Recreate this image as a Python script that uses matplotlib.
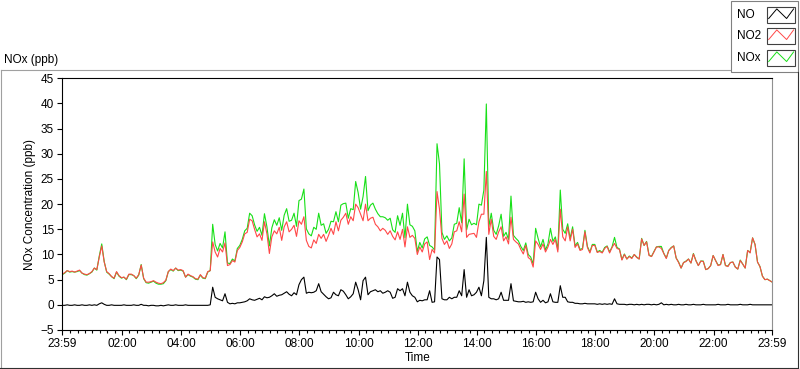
import matplotlib.pyplot as plt
import numpy as np
from matplotlib.patches import Rectangle

plt.rcParams['font.family'] = ['Liberation Sans', 'DejaVu Sans']
plt.rcParams['font.size'] = 8

# 5-minute readings from 23:59 to 23:59 next day, one row per hour
no2_ppb = [
    6.1, 6.4, 6.8, 6.6, 6.7, 6.5, 6.7, 6.9, 6.3, 6.1, 6.0, 6.2,
    6.6, 7.3, 7.0, 9.5, 11.7, 8.5, 6.6, 6.2, 5.6, 5.3, 6.6, 5.8,
    5.4, 5.5, 5.1, 6.1, 6.1, 5.8, 5.3, 6.0, 7.9, 5.3, 4.5, 4.5,
    4.6, 4.8, 4.5, 4.3, 4.2, 4.4, 4.9, 6.6, 7.1, 6.8, 7.3, 6.9,
    7.0, 6.8, 5.5, 6.1, 5.8, 5.6, 5.2, 5.1, 6.0, 5.4, 5.3, 6.6,
    6.8, 12.5, 10.5, 9.5, 11.2, 10.5, 12.3, 7.8, 8.0, 8.8, 8.5, 10.8,
    11.4, 12.5, 14.1, 14.4, 17.0, 16.7, 15.0, 13.5, 14.1, 12.8, 16.5, 14.1,
    10.2, 13.5, 14.7, 14.1, 15.4, 12.8, 15.5, 16.5, 14.5, 15.0, 15.8, 13.6,
    16.7, 16.0, 17.5, 12.8, 11.6, 11.3, 12.9, 12.2, 14.0, 13.2, 14.0, 12.6,
    13.8, 15.2, 14.0, 16.5, 14.7, 16.8, 17.4, 18.2, 16.0, 17.5, 16.7, 20.0,
    19.3, 18.0, 16.7, 20.0, 16.7, 17.2, 17.4, 16.0, 15.5, 14.7, 15.2, 14.8,
    14.0, 14.7, 13.6, 12.9, 14.5, 13.0, 15.0, 11.5, 15.5, 13.4, 13.8, 13.2,
    10.0, 11.5, 10.5, 12.1, 12.5, 9.0, 11.0, 10.3, 22.5, 19.0, 13.2, 12.0,
    12.7, 11.2, 12.1, 14.5, 14.7, 16.5, 14.5, 22.0, 13.4, 14.0, 14.1, 14.2,
    13.4, 16.5, 18.0, 18.0, 26.5, 14.0, 17.0, 13.6, 13.0, 14.5, 15.5, 12.7,
    13.5, 12.1, 17.4, 13.0, 12.5, 12.1, 11.0, 10.1, 11.8, 9.4, 9.0, 7.5,
    12.7, 12.0, 11.0, 12.1, 10.5, 11.5, 13.0, 12.0, 13.0, 10.5, 19.0, 13.5,
    12.7, 15.5, 12.7, 15.0, 11.4, 12.1, 10.8, 11.0, 14.5, 11.4, 10.3, 11.8,
    11.8, 10.4, 10.6, 10.3, 11.2, 11.6, 10.3, 11.4, 12.2, 11.2, 11.0, 8.9,
    10.0, 9.1, 9.6, 9.2, 10.0, 9.4, 9.1, 13.1, 11.8, 12.5, 9.8, 9.6,
    10.5, 11.5, 11.5, 11.2, 10.2, 9.2, 10.8, 11.3, 11.7, 9.3, 8.4, 7.3,
    8.4, 8.6, 9.1, 8.3, 10.1, 8.8, 7.8, 8.7, 8.6, 7.0, 7.2, 7.8,
    9.8, 8.8, 7.8, 8.0, 10.0, 7.8, 7.6, 8.4, 8.5, 7.5, 7.1, 8.8,
    8.1, 7.3, 10.8, 10.3, 13.3, 12.0, 8.5, 7.6, 5.7, 5.0, 5.1, 4.8, 4.5,
]

no_ppb = [
    -0.1, -0.1, 0.0, -0.1, -0.1, 0.0, -0.1, -0.1, 0.0, -0.1, -0.1, 0.0,
    -0.1, 0.0, -0.1, 0.2, 0.4, 0.1, -0.1, -0.1, 0.0, -0.1, -0.1, -0.1,
    -0.1, 0.0, -0.1, -0.1, -0.1, 0.0, -0.1, -0.1, 0.1, -0.1, -0.1, -0.2,
    -0.1, -0.1, -0.2, -0.2, -0.1, -0.2, -0.1, 0.0, -0.1, -0.1, 0.0, -0.1,
    -0.1, -0.1, 0.0, -0.1, -0.1, -0.1, -0.1, -0.1, -0.1, -0.1, -0.1, -0.1,
    0.0, 3.5, 1.5, 1.2, 1.0, 0.8, 2.2, 0.5, 0.2, 0.3, 0.2, 0.4,
    0.4, 0.5, 0.6, 0.8, 1.2, 1.0, 0.9, 1.1, 1.3, 1.0, 1.6, 1.4,
    1.5, 1.8, 2.2, 1.7, 1.9, 2.0, 2.3, 2.6, 2.1, 1.8, 2.4, 2.0,
    4.0, 5.0, 5.5, 2.3, 2.5, 2.4, 2.5, 2.8, 4.2, 2.6, 2.1, 1.6,
    1.2, 1.4, 2.5, 2.0, 1.8, 3.0, 2.7, 2.0, 1.2, 1.6, 2.2, 4.5,
    3.0, 1.0, 4.8, 5.5, 2.0, 2.6, 2.8, 3.0, 2.6, 2.8, 2.3, 2.5,
    2.8, 2.5, 1.3, 1.5, 3.2, 2.8, 3.2, 1.8, 4.5, 2.5, 1.8, 1.5,
    0.6, 0.9, 0.8, 1.0, 1.0, 2.8, 0.5, 0.6, 9.5, 9.0, 1.2, 1.0,
    1.0, 1.5, 1.2, 1.5, 1.5, 2.8, 1.8, 7.0, 1.5, 3.0, 1.8, 2.0,
    2.5, 3.5, 1.8, 4.8, 13.4, 1.5, 1.2, 1.2, 1.0, 1.2, 2.5, 0.9,
    0.9, 0.9, 4.2, 0.8, 0.7, 0.6, 0.6, 0.7, 0.5, 0.6, 0.5, 0.6,
    2.5, 1.2, 0.5, 0.9, 0.4, 0.6, 2.2, 0.6, 0.5, 0.5, 3.8, 1.5,
    1.5, 0.6, 0.5, 0.5, 0.3, 0.3, 0.2, 0.2, 0.3, 0.2, 0.2, 0.2,
    0.2, 0.1, 0.2, 0.1, 0.2, 0.1, 0.2, 0.1, 1.2, 0.2, 0.1, 0.1,
    0.1, 0.0, 0.1, 0.1, 0.0, 0.1, 0.0, 0.1, 0.0, 0.1, 0.1, 0.0,
    0.1, 0.0, 0.1, 0.4, 0.0, 0.1, 0.0, 0.1, 0.0, 0.0, 0.1, 0.0,
    0.0, 0.1, 0.0, 0.0, 0.1, 0.0, 0.0, 0.0, 0.1, 0.0, 0.0, 0.0,
    0.0, 0.0, 0.1, 0.0, 0.0, 0.0, 0.1, 0.0, 0.0, 0.0, 0.0, 0.1,
    0.0, 0.0, 0.0, 0.1, 0.0, 0.0, 0.0, 0.0, 0.0, 0.0, 0.0, 0.0, 0.0,
]

# NOx = NO + NO2
nox_ppb = [a + b for a, b in zip(no_ppb, no2_ppb)]

series_names = ['NO', 'NO2', 'NOx']
series_colors = ['black', '#ff4848', '#18e018']

tick_labels = ['23:59', '02:00', '04:00', '06:00', '08:00', '10:00', '12:00',
               '14:00', '16:00', '18:00', '20:00', '22:00', '23:59']

# hours since 23:59
hours = np.arange(len(no2_ppb)) * 5 / 60
major_pos = [0] + [2 * i + 1 / 60 for i in range(1, 12)] + [24]
minor_pos = [k * 0.25 + 1 / 60 for k in range(1, 96)]

W, H = 800, 369
fig = plt.figure(figsize=(W / 100, H / 100), dpi=100)

# frame, title and legend drawn in pixel units
bg = fig.add_axes([0, 0, 1, 1])
bg.set_xlim(0, W)
bg.set_ylim(H, 0)
bg.axis('off')
bg.plot([0.5, 730], [69.5, 69.5], color='#a0a0a0', lw=0.8)
bg.plot([0.5, 0.5], [69.5, 368], color='#a0a0a0', lw=0.8)
bg.plot([0, 798], [367.5, 367.5], color='#303030', lw=0.8)
bg.plot([797.5, 797.5], [72, 368], color='#303030', lw=0.8)
bg.text(4, 59.5, 'NOx (ppb)', ha='left', va='center', fontsize=8.5)

bg.add_patch(Rectangle((730.5, 0.5), 67.5, 71.5, facecolor='white',
                       edgecolor='#808080', lw=0.8))
leg_y = [15, 36, 58]
zig_x = np.array([0.06, 0.35, 0.70, 0.95])
zig_y = np.array([0.72, 0.12, 0.72, 0.12])
for name, col, yc in zip(series_names, series_colors, leg_y):
    bg.text(737, yc, name, ha='left', va='center', fontsize=8.5)
    bx, by, bw, bh = 767, yc - 8, 28, 16
    bg.add_patch(Rectangle((bx, by), bw, bh, facecolor='white',
                           edgecolor='#404040', lw=0.8))
    bg.plot(bx + zig_x * bw, by + zig_y * bh, color=col, lw=0.7)

# main plot area
ax = fig.add_axes([62.3 / W, 1 - 330 / H, 710 / W, 251.7 / H])
ax.plot(hours, nox_ppb, color=series_colors[2], lw=0.8)
ax.plot(hours, no2_ppb, color=series_colors[1], lw=0.8)
ax.plot(hours, no_ppb, color=series_colors[0], lw=0.8)

ax.set_xlim(0, 24)
ax.set_ylim(-5, 45)
ax.set_yticks(range(-5, 50, 5))
ax.set_xticks(major_pos)
ax.set_xticklabels(tick_labels)
ax.set_xticks(minor_pos, minor=True)
ax.tick_params(axis='both', which='major', direction='out', length=3.6,
               width=0.8, pad=2.5, labelsize=8.5)
ax.tick_params(axis='x', which='minor', direction='out', length=2.2, width=0.8)
ax.set_xlabel('Time', fontsize=8.5, labelpad=1)
ax.set_ylabel('NOx Concentration (ppb)', fontsize=8.5, labelpad=3)

for side in ['left', 'top', 'bottom']:
    ax.spines[side].set_color('black')
    ax.spines[side].set_linewidth(0.8)
ax.spines['right'].set_color('#909090')
ax.spines['right'].set_linewidth(0.8)

fig.savefig('out.png', dpi=100)
